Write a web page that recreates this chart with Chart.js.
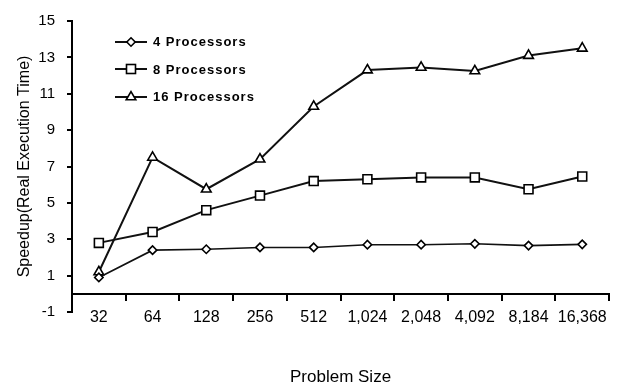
<!DOCTYPE html>
<html><head><meta charset="utf-8">
<style>
html,body{margin:0;padding:0;background:#fff;}
#wrap{width:617px;height:387px;position:relative}
.lg{position:absolute;left:115px;height:14px;display:flex;align-items:center;font:bold 13px Arial,"Liberation Sans",sans-serif;letter-spacing:1px;color:#000;white-space:nowrap}
.lg svg{display:block;margin-right:6px}
</style>
<script src="https://cdn.jsdelivr.net/npm/chart.js@4.4.1/dist/chart.umd.min.js"></script>
</head><body><div id="wrap"><canvas id="c" width="617" height="387"></canvas><div id="legend"></div></div>
<script>
const categories = ['32','64','128','256','512','1,024','2,048','4,092','8,184','16,368'];
const seriesNames = ['4 Processors','8 Processors','16 Processors'];
const proc4 = [0.9, 2.4, 2.45, 2.55, 2.55, 2.7, 2.7, 2.75, 2.65, 2.72];
const proc8 = [2.8, 3.4, 4.6, 5.4, 6.2, 6.3, 6.4, 6.4, 5.75, 6.45];
const proc16 = [1.2, 7.5, 5.75, 7.4, 10.3, 12.3, 12.45, 12.25, 13.1, 13.5];
const yTicks = [-1, 1, 3, 5, 7, 9, 11, 13, 15];
const xAxisAt = 0;

const FONT = 'Arial, "Liberation Sans", Helvetica, sans-serif';
Chart.defaults.font.family = FONT;
Chart.defaults.color = '#000';

function mk(label, data, style, r, lw) {
  return {label, data, pointStyle: style, pointRadius: r, pointHoverRadius: r,
    borderColor: '#111', borderWidth: lw, pointBackgroundColor: '#fff',
    pointBorderColor: '#000', pointBorderWidth: 1.6, tension: 0, fill: false};
}

const chart = new Chart(document.getElementById('c'), {
  type: 'line',
  data: {
    labels: categories,
    datasets: [
      mk(seriesNames[0], proc4, 'rectRot', 4.2, 1.6),
      mk(seriesNames[1], proc8, 'rect', 6.3, 2),
      mk(seriesNames[2], proc16, 'triangle', 5.6, 2)
    ]
  },
  options: {
    responsive: false,
    animation: false,
    devicePixelRatio: 1,
    layout: {padding: {left: 0, right: 5, top: 15, bottom: 75}},
    plugins: {legend: {display: false}, tooltip: {enabled: false}},
    scales: {
      x: {
        type: 'category',
        position: {y: xAxisAt},
        offset: true,
        grid: {display: true, drawOnChartArea: false, drawTicks: true, tickLength: 6, color: '#000', lineWidth: 2, offset: true},
        border: {display: true, color: '#000', width: 2},
        ticks: {color: '#000', font: {size: 16}, padding: 8, maxRotation: 0, autoSkip: false},
        title: {display: true, text: 'Problem Size', color: '#000', font: {size: 17}, padding: {top: 0, bottom: -19}},
        afterFit: s => { s.height = 75; s.paddingLeft = 0; s.paddingRight = 0; }
      },
      y: {
        min: -1, max: 15,
        grid: {drawOnChartArea: false, tickLength: 5, color: '#000', lineWidth: 2},
        border: {display: true, color: '#000', width: 2},
        ticks: {color: '#000', font: {size: 15}, padding: 12, autoSkip: false},
        afterBuildTicks: s => { s.ticks = yTicks.map(v => ({value: v})); },
        title: {display: true, text: 'Speedup(Real Execution Time)', color: '#000', font: {size: 16}, padding: {top: 15, bottom: 0}},
        afterFit: s => { s.width = 72; }
      }
    }
  }
});

// HTML legend inside the plot area, built from the datasets
const icons = {
  rectRot: '<polygon points="16,2.8 20.2,7 16,11.2 11.8,7" />',
  rect: '<rect x="11.5" y="2.5" width="9" height="9" />',
  triangle: '<polygon points="16,1.6 20.8,9.8 11.2,9.8" />'
};
const area = chart.chartArea;
const lgEl = document.getElementById('legend');
chart.data.datasets.forEach((ds, i) => {
  const row = document.createElement('div');
  row.className = 'lg';
  row.style.left = (area.left + 43) + 'px';
  row.style.top = (area.top + 20.5 + i * 27.5 - 7) + 'px';
  row.innerHTML = '<svg width="32" height="14" viewBox="0 0 32 14"><line x1="0" y1="7" x2="32" y2="7" stroke="#111" stroke-width="2"/>' +
    '<g fill="#fff" stroke="#000" stroke-width="1.6">' + icons[ds.pointStyle] + '</g></svg>';
  const t = document.createElement('span');
  t.textContent = ds.label;
  row.appendChild(t);
  lgEl.appendChild(row);
});
</script></body></html>
